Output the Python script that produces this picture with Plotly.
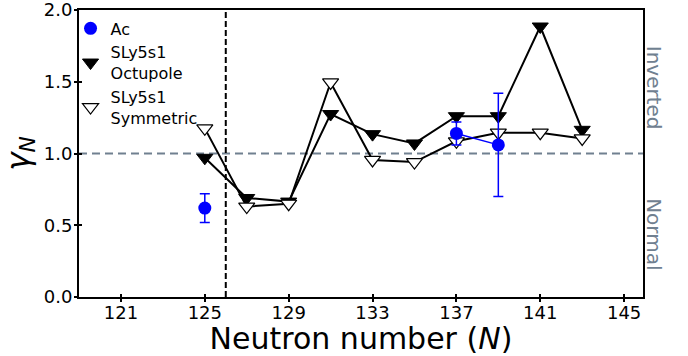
import plotly.graph_objects as go

# Neutron numbers (even N) and reduced ratios gamma_N
N = [125, 127, 129, 131, 133, 135, 137, 139, 141, 143]

octupole = [0.97, 0.69, 0.665, 1.275, 1.135, 1.07, 1.26, 1.26, 1.885, 1.165]
symmetric = [1.175, 0.63, 0.65, 1.495, 0.955, 0.94, 1.085, 1.145, 1.145, 1.105]

ac_N = [125, 127, 129, 131, 133, 135, 137, 139]
ac_val = [0.62, None, None, None, None, None, 1.14, 1.06]
ac_err = [0.10, None, None, None, None, None, 0.08, 0.36]

x_ticks = [121, 125, 129, 133, 137, 141, 145]
y_ticks = [0.0, 0.5, 1.0, 1.5, 2.0]
shell_gap_N = 126

FONT = "DejaVu Sans"
BLUE = "#0000ff"
SLATE = "#708090"

fig = go.Figure()

# connecting lines (kept out of the legend)
fig.add_trace(go.Scatter(x=N, y=octupole, mode="lines",
                         line=dict(color="black", width=2), showlegend=False))
fig.add_trace(go.Scatter(x=N, y=symmetric, mode="lines",
                         line=dict(color="black", width=2), showlegend=False))
fig.add_trace(go.Scatter(x=ac_N, y=ac_val, mode="lines", connectgaps=False,
                         line=dict(color=BLUE, width=1.5), showlegend=False))

# markers
fig.add_trace(go.Scatter(
    x=N, y=octupole, mode="markers", name="SLy5s1<br>Octupole",
    marker=dict(symbol="triangle-down", size=14, color="black",
                line=dict(color="black", width=1)), legendrank=2))
fig.add_trace(go.Scatter(
    x=N, y=symmetric, mode="markers", name="SLy5s1<br>Symmetric",
    marker=dict(symbol="triangle-down", size=14, color="white",
                line=dict(color="black", width=1.2)), legendrank=3))
fig.add_trace(go.Scatter(
    x=ac_N, y=ac_val, mode="markers", name="Ac",
    marker=dict(symbol="circle", size=13, color=BLUE),
    error_y=dict(type="data", array=ac_err, visible=True,
                 color=BLUE, thickness=1.5, width=5),
    legendrank=1))

# invisible trace anchoring the inner tick axes
fig.add_trace(go.Scatter(x=[None], y=[None], xaxis="x2", yaxis="y2",
                         showlegend=False, hoverinfo="skip"))

# reference lines
fig.add_shape(type="line", xref="paper", yref="y", x0=0, x1=1, y0=1, y1=1,
              line=dict(color=SLATE, width=2, dash="8px,5px"), layer="below")
fig.add_shape(type="line", xref="x", yref="paper", x0=shell_gap_N, x1=shell_gap_N,
              y0=0, y1=1, line=dict(color="black", width=2, dash="6px,3px"),
              layer="below")

# side labels
fig.add_annotation(text="Inverted", xref="paper", yref="y", x=1.019, y=1.46,
                   xanchor="center", yanchor="middle",
                   textangle=90, showarrow=False,
                   font=dict(family=FONT, size=20, color=SLATE))
fig.add_annotation(text="Normal", xref="paper", yref="y", x=1.019, y=0.44,
                   xanchor="center", yanchor="middle",
                   textangle=90, showarrow=False,
                   font=dict(family=FONT, size=20, color=SLATE))

axis_common = dict(showgrid=False, zeroline=False, automargin=False)

fig.update_layout(
    width=688, height=356,
    margin=dict(l=79, r=45, t=10, b=59),
    paper_bgcolor="white", plot_bgcolor="white",
    font=dict(family=FONT, size=18, color="black"),
    showlegend=True,
    legend=dict(x=-0.015, y=0.995, xanchor="left", yanchor="top",
                bgcolor="rgba(0,0,0,0)", borderwidth=0,
                font=dict(family=FONT, size=16), tracegroupgap=0,
                itemwidth=30),
    xaxis=dict(range=[119, 145.9], tickvals=x_ticks, ticks="outside",
               ticklen=3, tickwidth=2, tickcolor="black",
               showline=True, linecolor="black", linewidth=2, mirror=True,
               tickfont=dict(family=FONT, size=18), ticklabelstandoff=-5,
               ticklabeloverflow="allow",
               title=dict(text="Neutron number (<i>N</i>)",
                          font=dict(family=FONT, size=30), standoff=2),
               **axis_common),
    yaxis=dict(range=[0, 2], tickvals=y_ticks, tickformat=".1f",
               ticks="outside", ticklen=3, tickwidth=2, tickcolor="black",
               showline=True, linecolor="black", linewidth=2, mirror=True,
               tickfont=dict(family=FONT, size=18), ticklabelstandoff=-2,
               ticklabeloverflow="allow",
               title=dict(text="<i>γ</i><sub><i>N</i></sub>",
                          font=dict(family=FONT, size=31), standoff=6),
               **axis_common),
    xaxis2=dict(matches="x", overlaying="x", anchor="y2", tickvals=x_ticks,
                ticks="inside", ticklen=3, tickwidth=2, tickcolor="black",
                showticklabels=False, showline=False, **axis_common),
    yaxis2=dict(matches="y", overlaying="y", anchor="x2", tickvals=y_ticks,
                ticks="inside", ticklen=3, tickwidth=2, tickcolor="black",
                showticklabels=False, showline=False, **axis_common),
)

fig.write_html("out.html")
